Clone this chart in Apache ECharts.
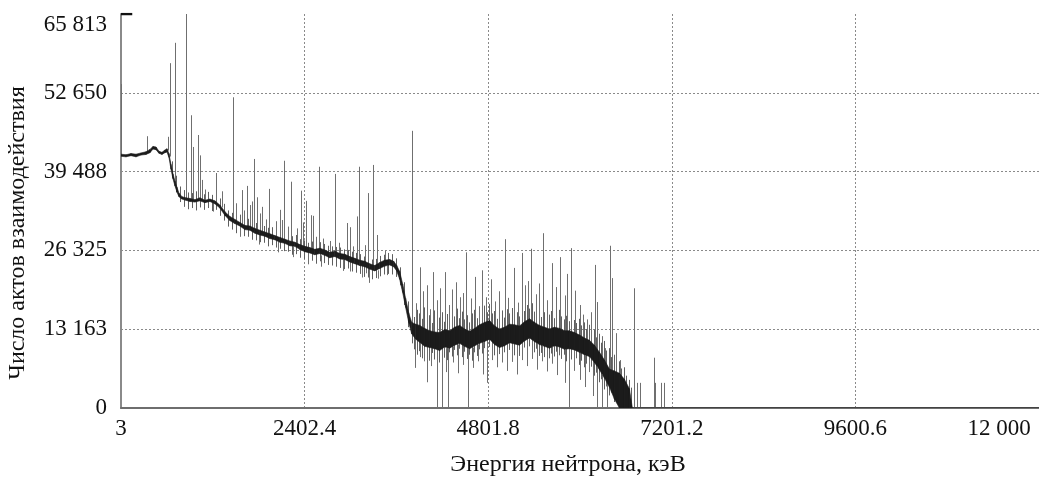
<!DOCTYPE html>
<html><head><meta charset="utf-8">
<script src="https://cdn.jsdelivr.net/npm/echarts@6/dist/echarts.min.js"></script>
<style>html,body{margin:0;padding:0;background:#fff}#c{width:1039px;height:481px}</style>
</head><body><div id="c"></div><script>
const xTickLabels = ['3', '2402.4', '4801.8', '7201.2', '9600.6', '12 000'];
const yTickLabels = ['0', '13 163', '26 325', '39 488', '52 650', '65 813'];
const xMin = 3, xMax = 12000, yMin = 0, yMax = 65813;
const xName = 'Энергия нейтрона, кэВ';
const yName = 'Число актов взаимодействия';

// dense continuum band (keV, lower edge, upper edge)
const bandEnergy = [3, 68, 134, 199, 264, 329, 382, 421, 460, 499,
  538, 577, 604, 630, 656, 682, 708, 734, 760, 799,
  851, 904, 969, 1034, 1100, 1165, 1230, 1295, 1360, 1426,
  1491, 1556, 1622, 1687, 1752, 1817, 1883, 1948, 2013, 2079,
  2144, 2209, 2274, 2340, 2405, 2470, 2535, 2601, 2666, 2731,
  2797, 2862, 2927, 2992, 3058, 3123, 3188, 3253, 3319, 3384,
  3449, 3514, 3567, 3606, 3645, 3684, 3723, 3763, 3802, 3854,
  3906, 3971, 4037, 4102, 4167, 4232, 4298, 4363, 4428, 4493,
  4559, 4624, 4689, 4754, 4820, 4885, 4950, 5015, 5081, 5146,
  5211, 5276, 5342, 5407, 5472, 5537, 5603, 5668, 5734, 5799,
  5864, 5929, 5995, 6060, 6125, 6190, 6256, 6321, 6386, 6451,
  6517, 6582, 6647, 6686, 12000];
const bandLow = [42050, 41950, 42150, 41950, 42250, 42350, 42650, 43250, 43150, 42550,
  42350, 42650, 42750, 41850, 39900, 38300, 37100, 36100, 35300, 34900,
  34700, 34500, 34400, 34600, 34300, 34500, 34100, 33400, 32200, 31300,
  30800, 30400, 29800, 29700, 29200, 28900, 28700, 28300, 28100, 27700,
  27500, 27100, 27000, 26500, 26100, 25900, 25600, 25800, 25500, 25100,
  25300, 24900, 24800, 24400, 24100, 23800, 23600, 23200, 22900, 23300,
  23700, 23900, 23600, 22900, 21500, 19300, 16800, 14300, 12400, 11500,
  11000, 10300, 10100, 9900, 9600, 10200, 10000, 10500, 10800, 10300,
  9900, 10400, 10800, 11100, 11500, 10600, 10100, 10400, 10900, 10700,
  10500, 11200, 11700, 11100, 10600, 10300, 10000, 10400, 10200, 9800,
  9900, 9700, 9300, 8900, 8600, 7600, 6400, 5000, 3500, 1500,
  0, 0, 0, 0, 0];
const bandHigh = [42400, 42300, 42500, 42400, 42600, 42800, 43200, 43700, 43600, 42900,
  42700, 43100, 43300, 42500, 40700, 39100, 37900, 36900, 35900, 35300,
  35100, 35000, 34800, 35100, 34700, 34900, 34600, 33900, 32800, 32000,
  31500, 31000, 30500, 30400, 30000, 29700, 29400, 29100, 28800, 28500,
  28200, 27900, 27700, 27300, 27000, 26800, 26500, 26700, 26400, 26000,
  26200, 25800, 25700, 25300, 25000, 24700, 24500, 24100, 23800, 24300,
  24700, 24800, 24500, 23800, 22800, 20700, 18300, 15900, 14300, 14000,
  13800, 13300, 12900, 12700, 12600, 13100, 12900, 13500, 13800, 13200,
  12800, 13300, 13900, 14300, 14600, 13700, 13200, 13500, 14000, 13900,
  13700, 14400, 14900, 14300, 13800, 13500, 13200, 13500, 13300, 12900,
  12900, 12600, 12200, 11700, 11300, 10500, 9300, 8000, 6500, 6200,
  5800, 4800, 3200, 0, 0];

// statistical scatter around the continuum (keV, low, high)
const noiseEnergy = [669, 721, 773, 825, 878, 930, 982, 1034, 1086, 1139,
  1191, 1243, 1295, 1347, 1399, 1452, 1504, 1556, 1608, 1661,
  1713, 1765, 1817, 1869, 1922, 1974, 2026, 2079, 2131, 2183,
  2235, 2288, 2340, 2392, 2444, 2496, 2548, 2601, 2653, 2705,
  2757, 2810, 2862, 2914, 2966, 3018, 3071, 3123, 3175, 3227,
  3279, 3332, 3384, 3436, 3488, 3540, 3593, 3645, 3697, 3749,
  3802, 3835, 3867, 3900, 3932, 3965, 3998, 4030, 4063, 4096,
  4128, 4161, 4193, 4226, 4259, 4291, 4324, 4357, 4389, 4422,
  4454, 4487, 4520, 4552, 4585, 4618, 4650, 4683, 4715, 4748,
  4781, 4813, 4846, 4879, 4911, 4944, 4976, 5009, 5042, 5074,
  5107, 5139, 5172, 5205, 5237, 5270, 5303, 5335, 5368, 5401,
  5433, 5466, 5498, 5531, 5564, 5596, 5629, 5662, 5694, 5727,
  5759, 5792, 5825, 5857, 5890, 5922, 5955, 5988, 6020, 6053,
  6085, 6118, 6151, 6183, 6216, 6249, 6281, 6314, 6347, 6379,
  6412, 6445, 6477, 6510, 6543, 6575, 6608, 6641, 6673];
const noiseLow = [38500, 36000, 34400, 33600, 33200, 33400, 33000, 33500, 33100, 33400,
  32900, 33100, 32100, 31300, 30300, 29800, 29200, 29300, 28700, 28600,
  28100, 28000, 27700, 27600, 27000, 27200, 26800, 26600, 26200, 26100,
  25600, 25700, 25100, 24900, 24500, 24600, 24100, 24500, 24200, 23900,
  23800, 23600, 23400, 23200, 23300, 22800, 22600, 22400, 21900, 21800,
  21500, 21700, 22000, 22300, 22400, 22300, 21900, 20500, 17200, 13500,
  10800, 9800, 8900, 9500, 8300, 9100, 8700, 7900, 9200, 8100,
  8800, 7600, 9000, 8400, 8000, 9300, 8600, 9700, 8800, 9900,
  8500, 9400, 8200, 8900, 7900, 9300, 8700, 9800, 9100, 10000,
  9400, 10200, 9600, 8800, 8400, 9000, 8600, 9300, 8900, 9700,
  9200, 8800, 9500, 8700, 9600, 10100, 9400, 10300, 9800, 9300,
  9900, 8700, 9200, 8500, 9000, 8300, 9100, 8600, 9400, 8800,
  8200, 8900, 7800, 8600, 8100, 7700, 8300, 7200, 7900, 6800,
  7400, 6300, 6900, 5400, 5900, 4300, 4800, 3100, 3600, 2100,
  2600, 1000, 1400, 0, 300, 0, 0, 0, 0];
const noiseHigh = [41200, 38800, 37000, 36400, 36000, 35900, 36200, 36000, 35700, 36100,
  35600, 35900, 35000, 34100, 33000, 32600, 32100, 32300, 31500, 31600,
  31000, 30900, 30600, 30400, 30100, 30200, 29700, 29500, 29300, 29000,
  28700, 28900, 28200, 28000, 27600, 27800, 27300, 27700, 27400, 27100,
  27000, 26900, 26800, 26500, 26400, 26100, 25900, 25700, 25300, 25200,
  24800, 24900, 25400, 25600, 25900, 25700, 25000, 23500, 21000, 17800,
  16000, 15200, 16400, 15800, 14900, 16800, 14600, 15500, 14200, 16300,
  14800, 15100, 16000, 14400, 15700, 14900, 16200, 15300, 16600, 15000,
  16100, 14800, 15500, 14300, 15800, 16400, 15000, 16900, 15600, 17100,
  16000, 17400, 15800, 16200, 14900, 15600, 16300, 15100, 16500, 15800,
  16700, 15400, 16000, 15300, 16800, 16200, 17200, 16600, 17500, 16100,
  15700, 16400, 15200, 16000, 14900, 15600, 16200, 15000, 15800, 16400,
  15300, 14800, 15400, 14500, 15900, 14700, 14200, 14900, 13800, 14300,
  13200, 13900, 12600, 13100, 11800, 12400, 10900, 11200, 9600, 10000,
  8500, 8900, 7400, 7800, 6600, 6800, 5400, 4700, 3400];

// resonance lines (keV, start value, end value)
const peakEnergy = [5, 342, 623, 643, 708, 714, 851, 917, 950, 1008,
  1034, 1060, 1100, 1243, 1321, 1465, 1472, 1504, 1582, 1608,
  1648, 1687, 1713, 1739, 1778, 1817, 1843, 1896, 1935, 2026,
  2079, 2105, 2131, 2183, 2222, 2301, 2353, 2379, 2418, 2483,
  2509, 2548, 2588, 2640, 2731, 2797, 2849, 2953, 2992, 3032,
  3084, 3110, 3188, 3227, 3292, 3345, 3449, 3802,
  1200, 1560, 1800, 2050, 2250, 2450, 2620, 2900, 3000, 3150, 3200, 3240, 3360, 3480,
  3854, 3906, 3945, 3997, 4037, 4076, 4128, 4167, 4232, 4285,
  4324, 4376, 4428, 4467, 4506, 4572, 4624, 4676, 4715, 4767,
  4833, 4885, 4937, 5015, 5067, 5133, 5185, 5237, 5289, 5328,
  5367, 5420, 5472, 5524, 5576, 5642, 5694, 5746, 5799, 5838,
  5890, 5942, 5995, 6047, 6099, 6151, 6203, 6230, 6295, 6334,
  6399, 6425, 6478, 6530, 6713, 6752, 6791, 6974, 6987, 7065, 7104,
  3841, 3906, 3958, 3997, 4050, 4128, 4193, 4245, 4272, 4337,
  4402, 4467, 4532, 4598, 4663, 4728, 4780, 4846, 4911, 4976,
  5041, 5107, 5172, 5250, 5315, 5380, 5446, 5511, 5576, 5642,
  5707, 5799, 5864, 5929, 5995, 6073, 6125, 6177, 6230, 6295, 6360];
const peakFrom = [42300, 42800, 43000, 42000, 37500, 37500, 34900, 34800, 34700, 34800,
  34800, 34700, 34500, 34300, 33500, 31200, 31000, 30800, 30300, 30100,
  29900, 29800, 29700, 29600, 29400, 29300, 29200, 28900, 28700, 28300,
  28100, 28000, 27900, 27700, 27500, 27200, 26900, 26800, 26500, 26300,
  26200, 26100, 26200, 26000, 25500, 25700, 25400, 25200, 24800, 24600,
  24400, 24300, 24000, 23900, 23600, 23500, 24200, 13500,
  34300, 30400, 29000, 27800, 27000, 26000, 25500, 24800, 24400, 23900, 23700, 23500, 23000, 23800,
  13000, 13000, 12500, 12200, 12000, 11800, 11500, 11400, 11800, 11800,
  11900, 12100, 12300, 12000, 11800, 11500, 11800, 12200, 12600, 12900,
  13000, 12200, 11800, 12000, 12300, 12300, 12100, 12500, 12800, 13000,
  13200, 12700, 12200, 12000, 11700, 11800, 11900, 11800, 11300, 11400,
  11400, 11100, 10800, 10400, 10100, 9800, 9000, 8500, 7000, 6500,
  5000, 4500, 3800, 3000, 0, 0, 0, 0, 0, 0, 0,
  11500, 11000, 10500, 10300, 10000, 9800, 9700, 10000, 10000, 10300,
  10600, 10500, 10000, 10100, 10600, 11000, 11200, 11000, 10300, 10200,
  10600, 10800, 10600, 11000, 11500, 11400, 10800, 10400, 10100, 10200,
  10300, 9800, 9900, 9700, 9300, 8800, 8600, 7800, 6800, 5500, 4200];
const peakTo = [54100, 45400, 45300, 57600, 61000, 50300, 65813, 48900, 43600, 45600,
  42200, 38100, 36500, 39250, 36200, 51900, 41600, 34200, 36400, 33000,
  37100, 33900, 34500, 41600, 35200, 32500, 33600, 31500, 36600, 31200,
  33100, 31400, 41300, 30300, 37800, 30000, 36300, 31000, 34600, 32200,
  32100, 28600, 40300, 28300, 27900, 39100, 27600, 30900, 30200, 27000,
  32000, 40300, 27200, 35900, 40600, 28900, 26300, 46300,
  32800, 28600, 27300, 26000, 25200, 24000, 23600, 22900, 22800, 21800, 22500, 20900, 21600, 22200,
  17500, 23500, 19500, 20500, 16500, 22700, 18000, 20000, 22700, 17200,
  19800, 21000, 18500, 19200, 26000, 18300, 21900, 17000, 23000, 18500,
  21500, 17800, 19500, 28200, 18400, 23400, 17600, 25900, 20500, 21200,
  26600, 19000, 20800, 29200, 18000, 24200, 20200, 25200, 18800, 22400,
  26700, 19600, 17200, 15600, 14800, 16000, 23900, 17700, 12000, 10000,
  27100, 21700, 12500, 8000, 20000, 4200, 4200, 8400, 4200, 4200, 4200,
  6700, 8500, 7800, 4300, 7000, 0, 0, 6000, 0, 7600,
  5800, 7200, 0, 6700, 7800, 5600, 4200, 8000, 6800, 7600,
  6200, 7700, 5600, 8000, 7000, 8200, 6400, 7800, 6100, 7400,
  5500, 4200, 0, 6200, 4700, 3500, 6000, 2000, 0, 0, 0];

const xInterval = (xMax - xMin) / 5;
const yInterval = (yMax - yMin) / 5;
const FONT = '"Liberation Serif", "DejaVu Serif", serif';

const chart = echarts.init(document.getElementById('c'), null, {renderer: 'canvas'});
const peakData = peakEnergy.map((e, i) => [e, peakFrom[i], peakTo[i]]);
const noiseData = noiseEnergy.map((e, i) => [e, noiseLow[i], noiseHigh[i]]);
const bandData = bandEnergy.map((e, i) => [e, bandLow[i], bandHigh[i]]);

function vline(color) {
  return (params, api) => {
    const a = api.coord([api.value(0), api.value(1)]);
    const b = api.coord([api.value(0), api.value(2)]);
    const x = Math.round(a[0]) + 0.5;
    return {type: 'line', shape: {x1: x, y1: a[1], x2: x, y2: b[1]},
      style: {stroke: color, lineWidth: 1}};
  };
}

chart.setOption({
  animation: false,
  backgroundColor: '#fff',
  grid: {left: 121, right: 0, top: 14, bottom: 73, containLabel: false, outerBoundsMode: 'none'},
  xAxis: {
    type: 'value', min: xMin, max: xMax, interval: xInterval,
    name: xName, nameLocation: 'middle', nameGap: 45,
    nameTextStyle: {fontFamily: FONT, fontSize: 24, color: '#111', padding: [0, 24, 0, 0]},
    axisLine: {show: true, lineStyle: {color: '#6e6e6e', width: 2}},
    axisTick: {show: false},
    axisLabel: {
      margin: 9, fontFamily: FONT, fontSize: 23, color: '#111',
      showMaxLabel: true, showMinLabel: true,
      formatter: (v) => {
        const i = Math.round((v - xMin) / xInterval);
        return i === xTickLabels.length - 1 ? '{last|' + xTickLabels[i] + '}' : xTickLabels[i];
      },
      rich: {last: {fontFamily: FONT, fontSize: 23, color: '#111', padding: [0, 80, 0, 0]}}
    },
    splitLine: {show: true, showMinLine: false, showMaxLine: false,
      lineStyle: {color: '#8a8a8a', width: 1, type: [2, 2]}}
  },
  yAxis: {
    type: 'value', min: yMin, max: yMax, interval: yInterval,
    name: yName, nameLocation: 'middle', nameGap: 91,
    nameTextStyle: {fontFamily: FONT, fontSize: 24, color: '#111', padding: [0, 44, 0, 0]},
    axisLine: {show: true, lineStyle: {color: '#8a8a8a', width: 2}},
    axisTick: {show: false},
    axisLabel: {
      margin: 14, fontFamily: FONT, fontSize: 23, color: '#111',
      formatter: (v) => {
        const i = Math.round((v - yMin) / yInterval);
        return i === yTickLabels.length - 1 ? '{top|' + yTickLabels[i] + '}' : yTickLabels[i];
      },
      rich: {top: {fontFamily: FONT, fontSize: 23, color: '#111', padding: [22, 0, 0, 0]}}
    },
    splitLine: {show: true, showMinLine: false, showMaxLine: false,
      lineStyle: {color: '#8a8a8a', width: 1, type: [2, 2]}}
  },
  series: [
    {
      type: 'custom', name: 'noise', data: noiseData, encode: {x: 0, y: [1, 2]},
      clip: true, z: 1, renderItem: vline('#5e5e5e')
    },
    {
      type: 'custom', name: 'peaks', data: peakData, encode: {x: 0, y: [1, 2]},
      clip: true, z: 2, renderItem: vline('#6f6f6f')
    },
    {
      type: 'custom', name: 'band', data: bandData, encode: {x: 0, y: [1, 2]},
      clip: true, z: 3,
      renderItem: (params, api) => {
        const i = params.dataIndex;
        if (i >= bandEnergy.length - 1) return null;
        const pts = [
          api.coord([bandEnergy[i], bandLow[i]]),
          api.coord([bandEnergy[i + 1], bandLow[i + 1]]),
          api.coord([bandEnergy[i + 1], bandHigh[i + 1]]),
          api.coord([bandEnergy[i], bandHigh[i]])
        ];
        return {type: 'polygon', shape: {points: pts},
          style: {fill: '#1b1b1b', stroke: '#1b1b1b', lineWidth: 0.6}};
      }
    },
    {
      type: 'line', name: 'topTick', data: [[xMin, yMax], [xMin + 147, yMax]],
      symbol: 'none', silent: true, z: 4,
      lineStyle: {color: '#111', width: 2.5}
    }
  ]
});
</script></body></html>
